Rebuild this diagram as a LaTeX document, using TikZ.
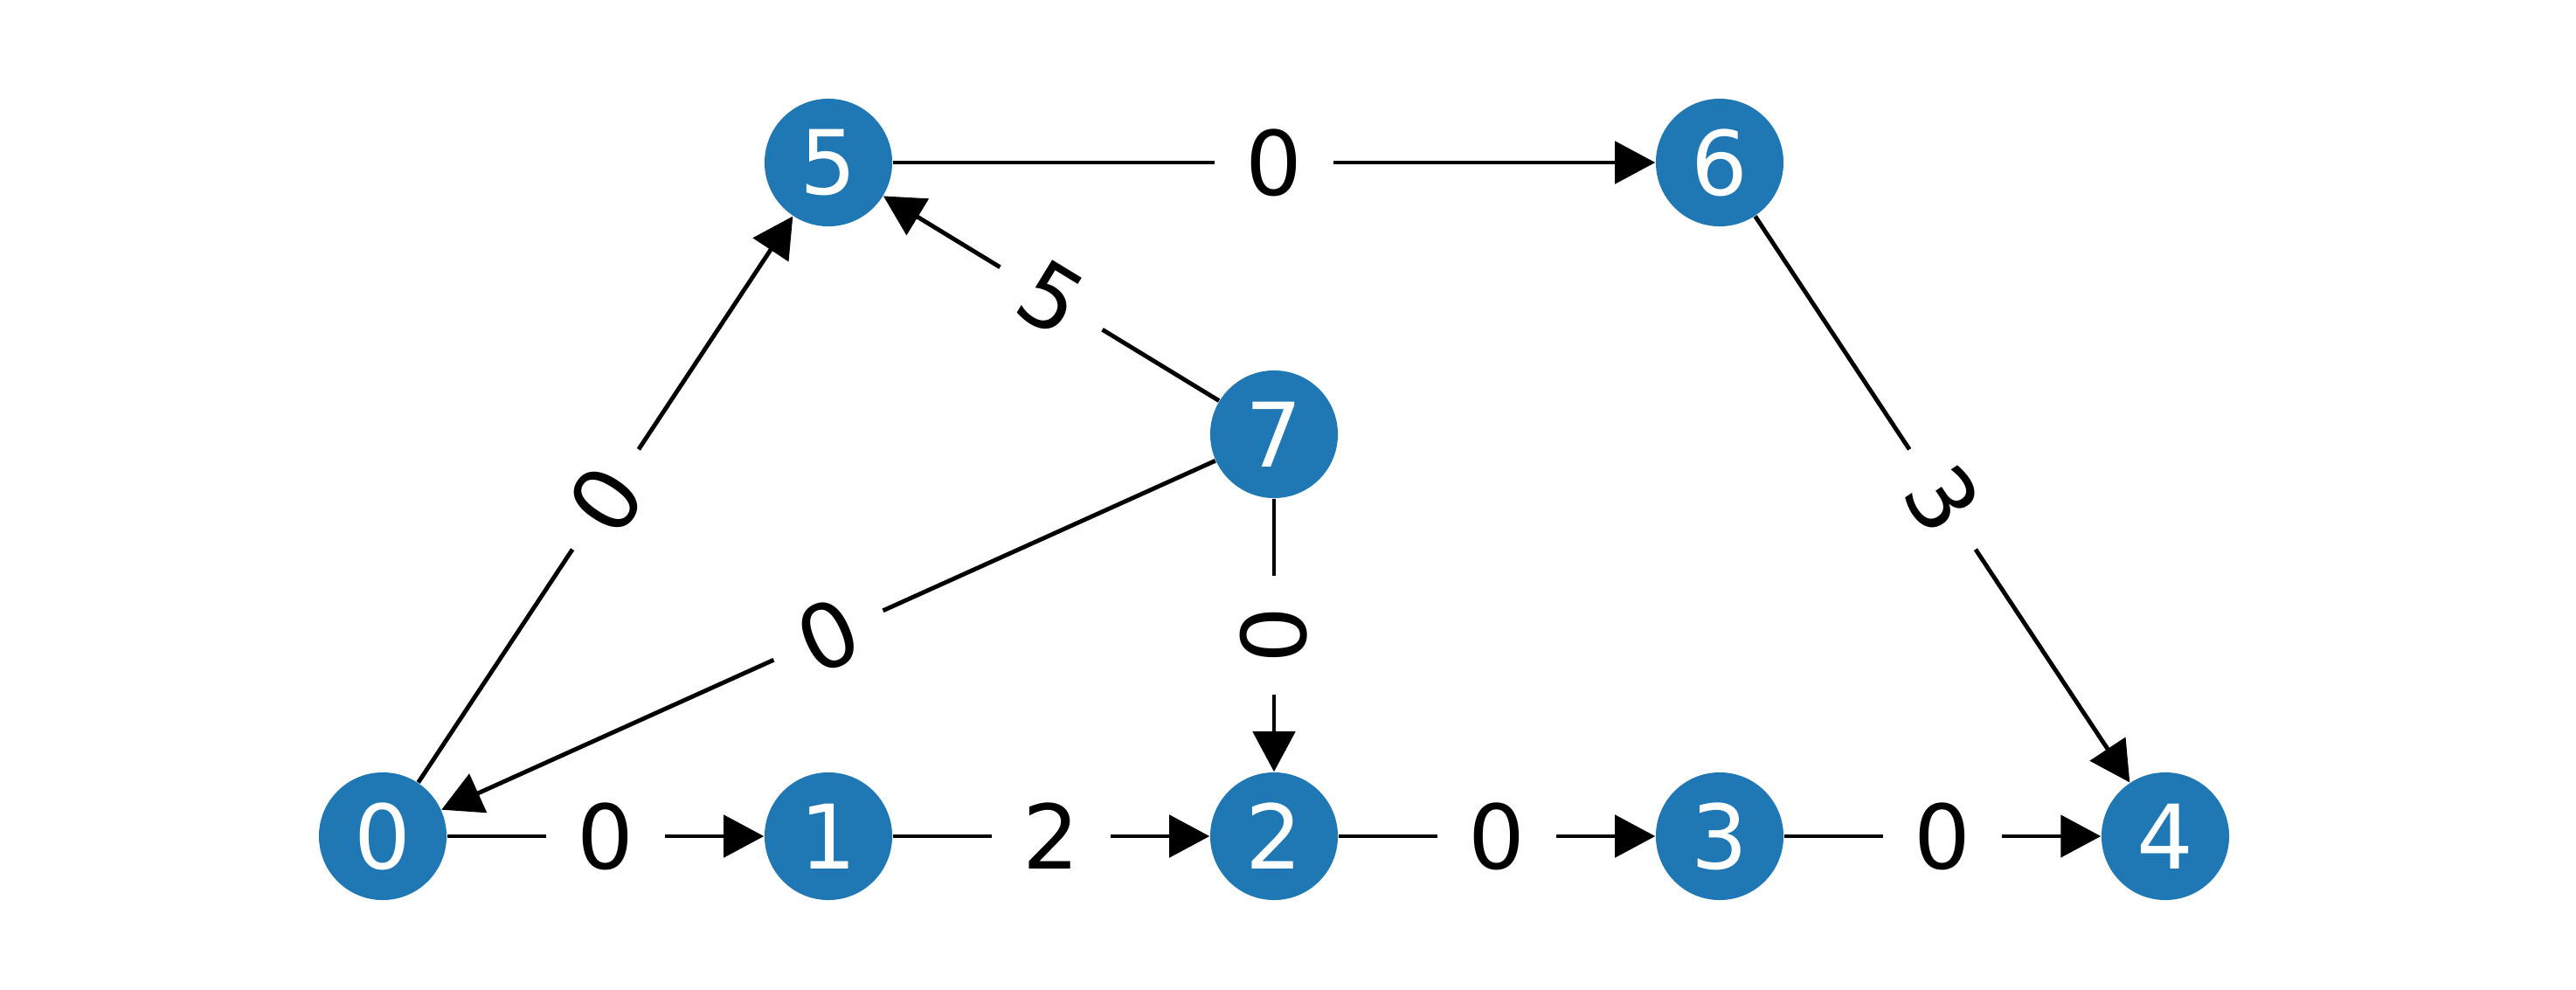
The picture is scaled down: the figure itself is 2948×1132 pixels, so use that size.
\documentclass[tikz,border=0pt]{standalone}
\usepackage{fontspec}
\setmainfont{DejaVu Sans}
\usetikzlibrary{arrows.meta}
\definecolor{nxblue}{HTML}{1F78B4}
\tikzset{
  vert/.style={circle, fill=nxblue, draw=none, minimum size=1.46cm, inner sep=0pt,
    text=white, font=\fontsize{29}{35}\selectfont},
  edg/.style={line width=1.4pt, -{Triangle[length=0.46cm,width=0.48cm]}},
  elab/.style={midway, sloped, fill=white, inner xsep=0.36cm, inner ysep=0.25cm,
    text=black, font=\fontsize{29}{35}\selectfont}
}
\begin{document}
\begin{tikzpicture}[x=0.01cm, y=0.01cm]
\useasboundingbox (0,0) rectangle (2948,1132);
\node[vert] (n0) at (438,175) {0};
\node[vert] (n1) at (948,175) {1};
\node[vert] (n2) at (1458,175) {2};
\node[vert] (n3) at (1968,175) {3};
\node[vert] (n4) at (2478,175) {4};
\node[vert] (n5) at (948,946) {5};
\node[vert] (n6) at (1968,946) {6};
\node[vert] (n7) at (1458,635) {7};

\draw[edg] (n0) -- (n1) node[elab] {0};
\draw[edg] (n1) -- (n2) node[elab] {2};
\draw[edg] (n2) -- (n3) node[elab] {0};
\draw[edg] (n3) -- (n4) node[elab] {0};
\draw[edg] (n5) -- (n6) node[elab] {0};
\draw[edg] (n0) -- (n5) node[elab] {0};
\draw[edg] (n7) -- (n5) node[elab] {5};
\draw[edg] (n7) -- (n0) node[elab] {0};
\draw[edg] (n7) -- (n2) node[elab] {0};
\draw[edg] (n6) -- (n4) node[elab] {3};
\end{tikzpicture}
\end{document}
